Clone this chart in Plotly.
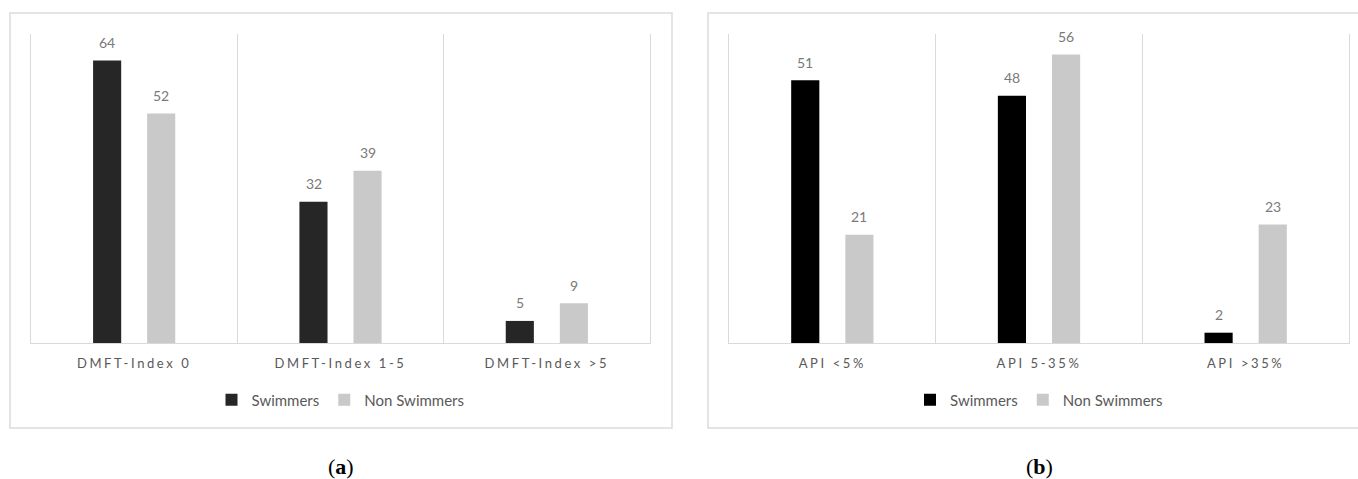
import plotly.graph_objects as go

# Canvas size in pixels
W, H = 1358, 479

# ---- data ----
dmft_categories = ["DMFT-Index 0", "DMFT-Index 1-5", "DMFT-Index >5"]
dmft_swimmers = [64, 32, 5]
dmft_non_swimmers = [52, 39, 9]

api_categories = ["API <5%", "API 5-35%", "API >35%"]
api_swimmers = [51, 48, 2]
api_non_swimmers = [21, 56, 23]

series_names = ["Swimmers", "Non Swimmers"]
panel_labels = ["a", "b"]

# ---- styling ----
FONT = "Lato, 'Open Sans', sans-serif"
GRID = "#d9d9d9"
BOX = "#dcdcdc"
TICK_COLOR = "#595959"
VALUE_COLOR = "#7a7a7a"
NON_SWIM_COLOR = "#c9c9c9"


def px_x(p):
    return p / W


def px_y(p):
    return 1 - p / H


fig = go.Figure()

panels = [
    dict(cats=dmft_categories, sw=dmft_swimmers, ns=dmft_non_swimmers,
         sw_color="#262626", xa="x", ya="y", legend="legend", ymax=70),
    dict(cats=api_categories, sw=api_swimmers, ns=api_non_swimmers,
         sw_color="#000000", xa="x2", ya="y2", legend="legend2", ymax=60),
]

annotations = []
for p in panels:
    for name, vals, color, shift in [
        (series_names[0], p["sw"], p["sw_color"], -27),
        (series_names[1], p["ns"], NON_SWIM_COLOR, 27),
    ]:
        fig.add_trace(go.Bar(
            x=p["cats"], y=vals, name=name,
            marker=dict(color=color, line=dict(width=0)),
            xaxis=p["xa"], yaxis=p["ya"], legend=p["legend"],
            hoverinfo="skip",
        ))
        # value labels sitting above each bar
        for c, v in zip(p["cats"], vals):
            annotations.append(dict(
                x=c, y=v, xref=p["xa"], yref=p["ya"],
                xshift=shift, yshift=18, text=str(v), showarrow=False,
                yanchor="middle", xanchor="center",
                font=dict(family=FONT, size=14, color=VALUE_COLOR),
            ))

# panel captions
for lab, cx in zip(panel_labels, [340.5, 1039]):
    annotations.append(dict(
        x=px_x(cx), y=px_y(466), xref="paper", yref="paper",
        text="(<b>%s</b>)" % lab, showarrow=False,
        xanchor="center", yanchor="middle",
        font=dict(family="'Liberation Serif', serif", size=22, color="#000000"),
    ))

y_dom = [px_y(343), px_y(34)]


def xaxis_style(x0, x1, anchor):
    return dict(
        domain=[px_x(x0), px_x(x1)], anchor=anchor, type="category",
        range=[-0.5, 2.5], tickson="boundaries", ticks="",
        showgrid=True, gridcolor=GRID, gridwidth=1,
        showline=True, linecolor=GRID, linewidth=1, zeroline=False,
        tickfont=dict(family=FONT, size=13, color=TICK_COLOR),
        ticklabelstandoff=8, fixedrange=True,
    )


def yaxis_style(ymax, anchor):
    return dict(
        domain=y_dom, anchor=anchor, range=[0, ymax],
        showticklabels=False, showgrid=False, zeroline=False, ticks="",
        showline=True, mirror=True, linecolor=GRID, linewidth=1,
        fixedrange=True,
    )


def legend_style(cx):
    return dict(
        orientation="h", x=px_x(cx), xanchor="center",
        y=px_y(400), yanchor="middle", bgcolor="rgba(0,0,0,0)",
        font=dict(family=FONT, size=15, color=TICK_COLOR),
        itemwidth=30, traceorder="normal",
    )


shapes = [
    dict(type="rect", xref="paper", yref="paper",
         x0=px_x(10), x1=px_x(672), y0=px_y(428), y1=px_y(13),
         line=dict(color=BOX, width=1.5), fillcolor="rgba(0,0,0,0)", layer="below"),
    dict(type="rect", xref="paper", yref="paper",
         x0=px_x(708), x1=px_x(1370), y0=px_y(428), y1=px_y(13),
         line=dict(color=BOX, width=1.5), fillcolor="rgba(0,0,0,0)", layer="below"),
]

fig.update_layout(
    width=W, height=H, margin=dict(l=0, r=0, t=0, b=0),
    paper_bgcolor="white", plot_bgcolor="white",
    barmode="group", bargap=0.476, bargroupgap=0.48,
    xaxis=xaxis_style(31, 650, "y"),
    yaxis=yaxis_style(panels[0]["ymax"], "x"),
    xaxis2=xaxis_style(729, 1349, "y2"),
    yaxis2=yaxis_style(panels[1]["ymax"], "x2"),
    legend=legend_style(340.5),
    legend2=legend_style(1039),
    showlegend=True,
    annotations=annotations,
    shapes=shapes,
)

# widen the tracking of the category labels
letter_spacing_js = (
    "document.querySelectorAll('.xtick text, .x2tick text')"
    ".forEach(function(t){t.style.letterSpacing='2.6px';});"
)

fig.write_html("out.html", config={"displayModeBar": False},
               post_script=letter_spacing_js)
